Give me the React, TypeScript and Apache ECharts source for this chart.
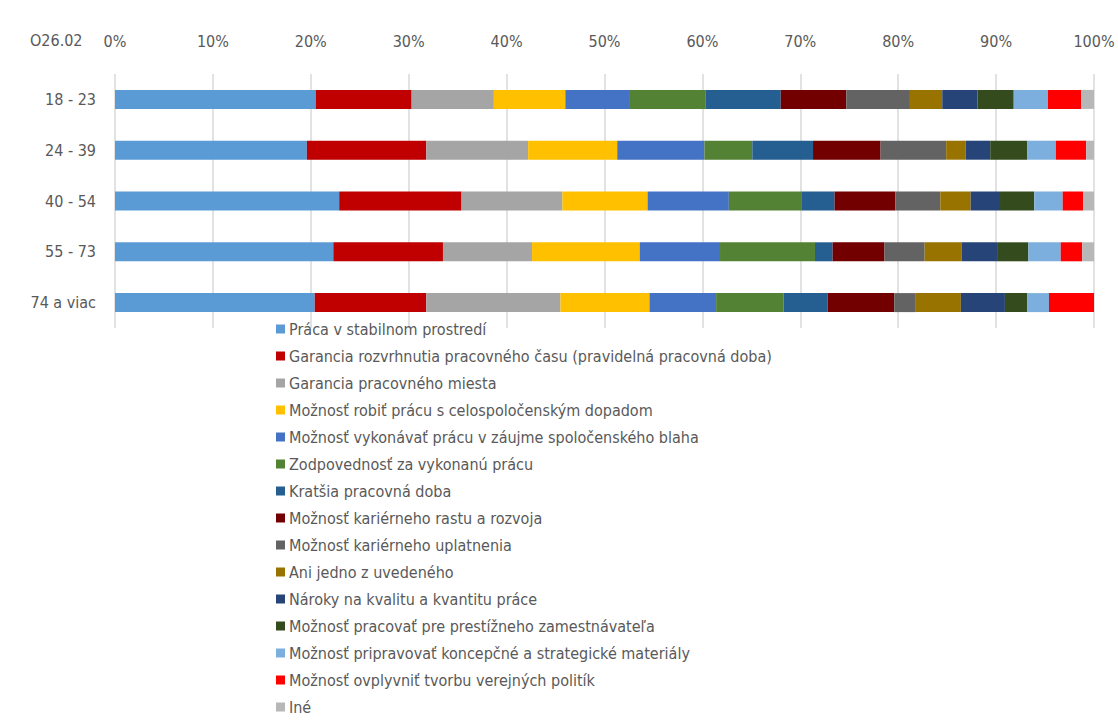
import React, { useEffect, useRef } from "react";
import * as echarts from "echarts";

const categories = ["18 - 23", "24 - 39", "40 - 54", "55 - 73", "74 a viac"];
const xTicks = [0, 10, 20, 30, 40, 50, 60, 70, 80, 90, 100];

const seriesNames = [
  "Práca v stabilnom prostredí",
  "Garancia rozvrhnutia pracovného času (pravidelná pracovná doba)",
  "Garancia pracovného miesta",
  "Možnosť robiť prácu s celospoločenským dopadom",
  "Možnosť vykonávať prácu v záujme spoločenského blaha",
  "Zodpovednosť za vykonanú prácu",
  "Kratšia pracovná doba",
  "Možnosť kariérneho rastu a rozvoja",
  "Možnosť kariérneho uplatnenia",
  "Ani jedno z uvedeného",
  "Nároky na kvalitu a kvantitu práce",
  "Možnosť pracovať pre prestížneho zamestnávateľa",
  "Možnosť pripravovať koncepčné a strategické materiály",
  "Možnosť ovplyvniť tvorbu verejných politík",
  "Iné",
];

const colors = [
  "#5B9BD5", "#C00000", "#A5A5A5", "#FFC000", "#4472C4", "#548235", "#255E91",
  "#720000", "#636363", "#997300", "#264478", "#334B1D", "#7CAFDD", "#FF0000", "#B7B7B7",
];

// values per series, in order of categories
const s1 = [20.5, 19.6, 22.9, 22.3, 20.4];
const s2 = [9.8, 12.2, 12.5, 11.2, 11.4];
const s3 = [8.4, 10.4, 10.3, 9.1, 13.7];
const s4 = [7.3, 9.1, 8.7, 11.0, 9.1];
const s5 = [6.6, 8.9, 8.3, 8.2, 6.8];
const s6 = [7.7, 4.9, 7.4, 9.7, 6.9];
const s7 = [7.7, 6.2, 3.4, 1.8, 4.5];
const s8 = [6.7, 6.9, 6.2, 5.3, 6.8];
const s9 = [6.5, 6.7, 4.6, 4.1, 2.2];
const s10 = [3.3, 2.0, 3.1, 3.8, 4.6];
const s11 = [3.6, 2.5, 3.0, 3.6, 4.5];
const s12 = [3.7, 3.8, 3.5, 3.2, 2.3];
const s13 = [3.5, 2.9, 2.9, 3.3, 2.2];
const s14 = [3.4, 3.1, 2.1, 2.2, 4.6];
const s15 = [1.3, 0.8, 1.1, 1.2, 0.0];

const seriesValues = [s1, s2, s3, s4, s5, s6, s7, s8, s9, s10, s11, s12, s13, s14, s15];

const FONT = "'DejaVu Sans Condensed', 'Open Sans', sans-serif";
const TEXT_COLOR = "#595959";

export default function App() {
  const ref = useRef<HTMLDivElement>(null);

  useEffect(() => {
    if (!ref.current) return;
    const chart = echarts.init(ref.current, undefined, { renderer: "svg" });
    chart.setOption({
      animation: false,
      backgroundColor: "#ffffff",
      color: colors,
      textStyle: { fontFamily: FONT },
      graphic: [
        {
          type: "text",
          left: 30,
          top: 32,
          style: { text: "O26.02", font: `16px ${FONT}`, fill: TEXT_COLOR },
        },
      ],
      grid: { left: 115, right: 24, top: 74, height: 254, containLabel: false },
      xAxis: {
        type: "value",
        position: "top",
        min: xTicks[0],
        max: xTicks[xTicks.length - 1],
        interval: 10,
        axisLine: { show: false },
        axisTick: { show: false },
        axisLabel: {
          formatter: "{value}%",
          color: TEXT_COLOR,
          fontSize: 16,
          fontFamily: FONT,
          margin: 25,
        },
        splitLine: { show: true, lineStyle: { color: "#D9D9D9", width: 1.5 } },
      },
      yAxis: {
        type: "category",
        data: categories,
        inverse: true,
        axisLine: { show: false },
        axisTick: { show: false },
        axisLabel: { color: TEXT_COLOR, fontSize: 16, fontFamily: FONT, margin: 19 },
      },
      legend: {
        orient: "vertical",
        left: 276,
        top: 320,
        itemWidth: 9,
        itemHeight: 9,
        itemGap: 9,
        icon: "rect",
        padding: 0,
        data: seriesNames,
        textStyle: {
          color: TEXT_COLOR,
          fontSize: 16,
          fontFamily: FONT,
          lineHeight: 18,
          padding: [0, 0, 0, -1],
        },
      },
      series: seriesNames.map((name, i) => ({
        name,
        type: "bar",
        stack: "total",
        barWidth: 19,
        data: seriesValues[i],
        itemStyle: { color: colors[i] },
        emphasis: { disabled: true },
      })),
    });
    return () => chart.dispose();
  }, []);

  return (
    <div
      ref={ref}
      style={{ position: "absolute", left: 0, top: 0, width: 1118, height: 726 }}
    />
  );
}
